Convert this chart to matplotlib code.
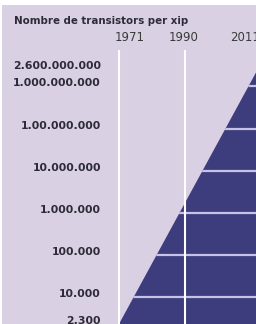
import numpy as np
import matplotlib
matplotlib.use("Agg")
import matplotlib.pyplot as plt
from matplotlib.patches import Rectangle, Polygon
from matplotlib.ticker import NullLocator

# data
years = [1971, 2011]
transistors = [2300, 2600000000]
tick_values = [2300, 10000, 100000, 1000000, 10000000, 100000000, 1000000000, 2600000000]
tick_labels = ["2.300", "10.000", "100.000", "1.000.000", "10.000.000",
               "1.00.000.000", "1.000.000.000", "2.600.000.000"]
year_lines = [1971, 1990]
year_labels = ["1971", "1990", "2011"]
year_label_pos = [1971, 1990, 2011]
year_label_shift = [11, -1, -13]  # px, labels sit a bit off their lines

title = "Nombre de transistors per xip"

bg = "#d9d1e3"
navy = "#3d3c7c"
grid_c = "#c6c3e6"
text_c = "#2e2a38"

W, H = 256, 324
fig = plt.figure(figsize=(W / 100, H / 100), dpi=100, facecolor="white")
fig.patches.append(Rectangle((2 / W, 0), 1, 1 - 5 / H, transform=fig.transFigure,
                             facecolor=bg, edgecolor="none", zorder=-10))

ax = fig.add_axes([110 / W, 0, 146 / W, (H - 50) / H])
ax.set_facecolor("none")
ax.set_yscale("log")
ax.set_xlim(1968.41, 2010.44)
ax.set_ylim(10 ** 3.463, 10 ** 9.864)
for s in ax.spines.values():
    s.set_visible(False)

# the growth triangle
tri = Polygon([(years[0], transistors[0]), (years[1], transistors[1]),
               (years[1], transistors[0])], closed=True,
              facecolor=navy, edgecolor="none", zorder=1)
ax.add_patch(tri)

# level lines, only visible inside the triangle
for v in tick_values[1:-1]:
    ln = ax.axhline(v, color=grid_c, lw=1.6, zorder=2)
    ln.set_clip_path(tri)

for yr in year_lines:
    ax.axvline(yr, color="white", lw=1.5, zorder=3)

ax.set_xticks([])
ax.set_yticks(tick_values)
ax.set_yticklabels(tick_labels)
ax.yaxis.set_minor_locator(NullLocator())
ax.tick_params(axis="y", length=0, pad=6.5)
for lab in ax.get_yticklabels():
    lab.set_fontweight("bold")
    lab.set_fontsize(7.8)
    lab.set_color(text_c)
    lab.set_va("baseline")

for lab, yr, dx in zip(year_labels, year_label_pos, year_label_shift):
    ax.annotate(lab, xy=(yr, 1), xycoords=("data", "axes fraction"),
                xytext=(dx * 0.72, 4), textcoords="offset points",
                ha="center", va="bottom", fontsize=8.5, color="#3a3a3a",
                annotation_clip=False)

fig.text(14 / W, 1 - 24 / H, title, fontsize=8.2, fontweight="bold",
         fontstretch="condensed", family="DejaVu Sans",
         color=text_c, ha="left", va="baseline")

fig.savefig("out.png", dpi=100, facecolor="white")
